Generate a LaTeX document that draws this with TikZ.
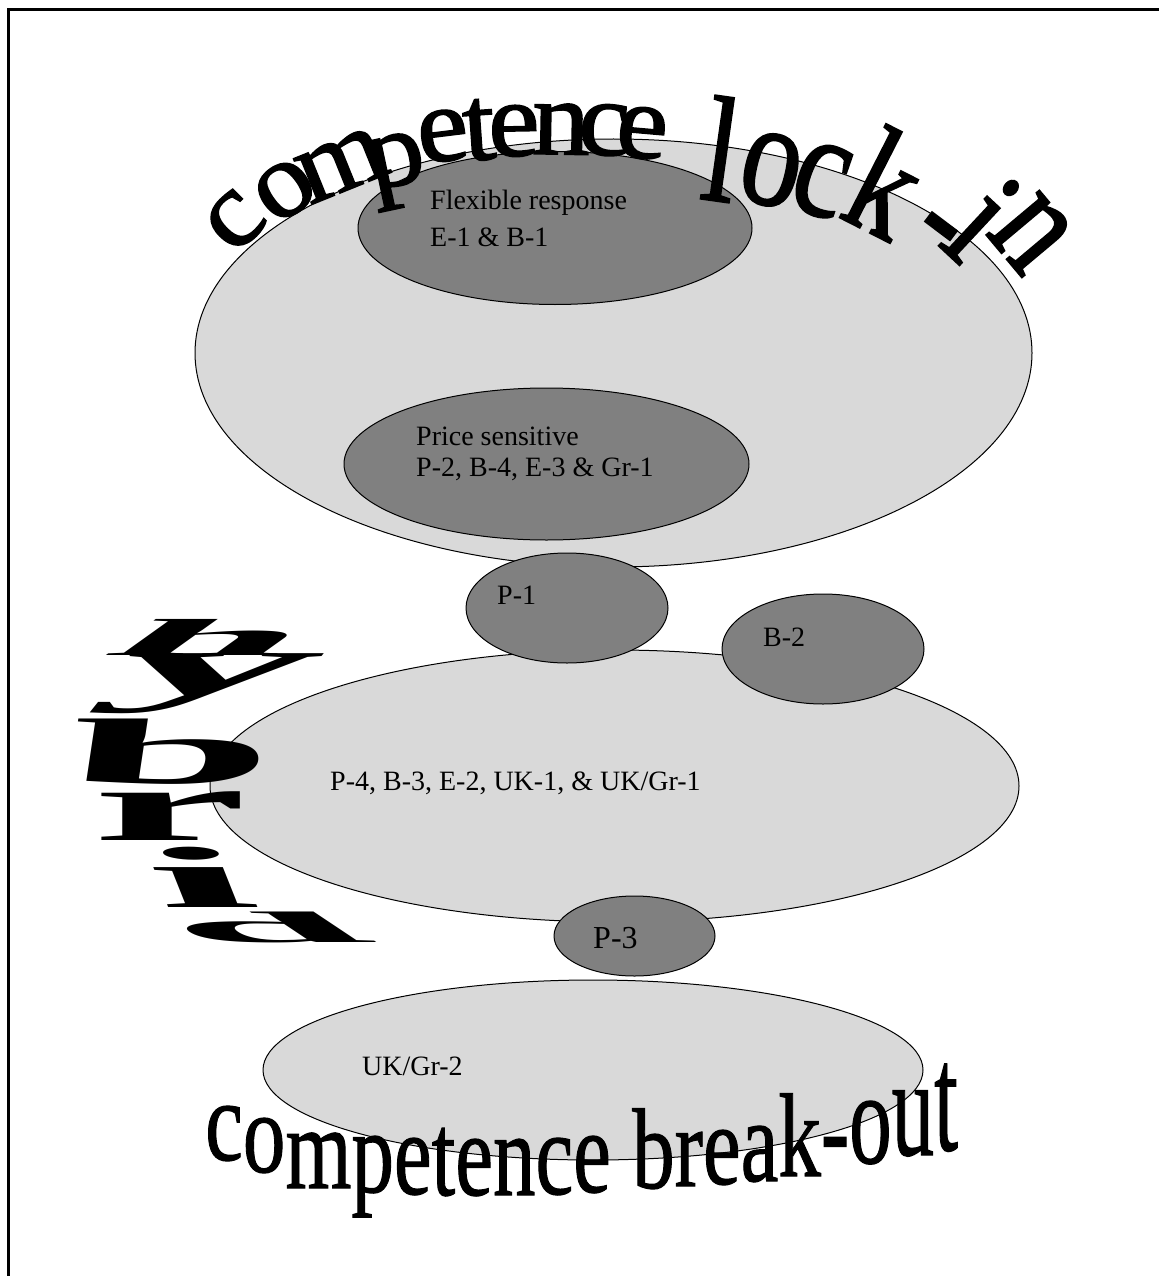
\documentclass[tikz,border=0pt]{standalone}
\usepackage{fontspec}
\setmainfont{Liberation Serif}
\newfontfamily\arcfont[FakeBold=1.5]{Liberation Serif}
\newfontfamily\botfont[FakeBold=1]{Liberation Serif}
\usetikzlibrary{shapes.geometric}
\definecolor{lightgr}{RGB}{217,217,217}
\definecolor{darkgr}{RGB}{128,128,128}
\begin{document}
\begin{tikzpicture}[x=1pt,y=-1pt,
  lite/.style={ellipse, draw=black, line width=1pt, fill=lightgr, inner sep=0pt},
  dark/.style={ellipse, draw=black, line width=1pt, fill=darkgr, inner sep=0pt},
  lab/.style={font=\fontsize{28}{28}\selectfont, inner sep=0pt, anchor=base west},
  hyb/.style={font=\fontsize{100}{100}\selectfont\bfseries, inner sep=0pt},
  archA/.style={font=\arcfont\fontsize{107}{107}\selectfont, inner sep=0pt, xscale=1.08},
  archB/.style={font=\arcfont\fontsize{150}{150}\selectfont, inner sep=0pt, xscale=0.8},
  bchar/.style={font=\botfont\fontsize{85}{85}\selectfont, inner sep=0pt, anchor=base west}]
\useasboundingbox (0,0) rectangle (1159,1276);
% frame
\coordinate (bl) at (8.5,1276);
\coordinate (tl) at (8.5,10);
\coordinate (tr) at (1159,10);
\draw[line width=3pt] (bl) -- (tl) -- (tr);
% ellipses
\node[lite, minimum width=837pt, minimum height=428pt] (top) at (613.5,353) {};
\node[dark, minimum width=394pt, minimum height=153pt] (flex) at (555,228) {};
\node[dark, minimum width=405pt, minimum height=152pt] (price) at (546.5,464) {};
\node[lite, minimum width=809pt, minimum height=272pt] (mid) at (614.5,786) {};
\node[dark, minimum width=202pt, minimum height=110pt] (p1) at (567,608) {};
\node[dark, minimum width=202pt, minimum height=110pt] (b2) at (823,649) {};
\node[lite, minimum width=660pt, minimum height=180pt] (bot) at (593,1070) {};
\node[dark, minimum width=161pt, minimum height=80pt] (p3) at (634.5,936) {};
% labels
\node[lab] (flexA) at (430,209) {Flexible response};
\node[lab] (flexB) at (430,246) {E-1 \& B-1};
\node[lab] (priceA) at (416,445) {Price sensitive};
\node[lab] (priceB) at (416,476) {P-2, B-4, E-3 \& Gr-1};
\node[lab] (p1t) at (497,604) {P-1};
\node[lab] (b2t) at (763,646) {B-2};
\node[lab] (midt) at (330,790) {P-4, B-3, E-2, UK-1, \& UK/Gr-1};
\node[lab, font=\fontsize{32}{32}\selectfont] (p3t) at (593,948) {P-3};
\node[lab] (bott) at (362,1075) {UK/Gr-2};
% arched title: competence lock-in
\foreach \ch/\xx/\yy/\rr [count=\i] in {c/235/221/45, o/285/190/35, m/342/165/22,
  p/398/171/12, e/443/136/7, t/479/130/4, e/514/131/1, n/561/129/-1,
  c/604/130/-3, e/642/133/-5}
  \node[rotate=\rr, archA] (cl\i) at (\xx,\yy) {\ch};
\foreach \ch/\xx/\yy/\rr [count=\i] in {l/722/149/-8, o/771/170/-13, c/821/180/-19,
  k/887/183/-27, -/932/238/-37, i/983/219/-43, n/1031/233/-50}
  \node[rotate=\rr, archB] (li\i) at (\xx,\yy) {\ch};
% hybrid
\node[hyb, xslant=1.4, xscale=3.3, yscale=0.52] (hh) at (215,637.5) {h};
\node[hyb, xslant=0.8, xscale=4.0, yscale=0.89] (hy) at (204,684) {y};
\node[hyb, xslant=0.15, xscale=3.7, yscale=0.93] (hb) at (172,752) {b};
\node[hyb, xscale=3.5, yscale=1.03] (hr) at (170,816.5) {r};
\node[hyb, xslant=-0.4, xscale=3.7, yscale=0.87] (hi) at (200,877) {i};
\node[hyb, xslant=-1.5, xscale=3.4, yscale=0.44] (hd) at (263,927) {d};
% competence break-out
\foreach \ch/\xx/\yy/\sc [count=\i] in {c/205/1160/1.35, o/242.7/1172/1.35,
  m/285.2/1188/1.38, p/351.3/1192/1.4, e/393.8/1194/1.4, t/431.5/1195/1.4,
  e/455.1/1195/1.4, n/492.8/1195/1.4, c/535.3/1194/1.4, e/573/1192/1.4,
  b/632/1188/1.35, r/674.5/1186/1.35, e/702.8/1184/1.35, a/740.5/1181/1.38,
  k/778.2/1176/1.4, -/820.7/1171/1.45, o/849/1163/1.55, u/891.5/1155/1.65,
  t/934/1150/1.8}
  \node[bchar, yscale=\sc] (bo\i) at (\xx,\yy) {\ch};
\end{tikzpicture}
\end{document}
